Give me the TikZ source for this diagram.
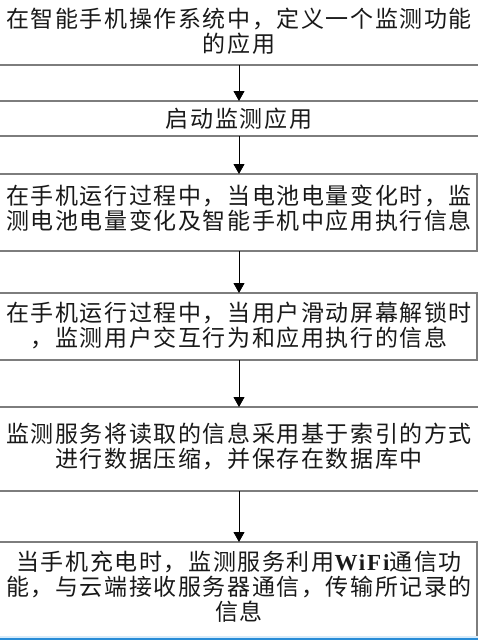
\documentclass[tikz,border=0pt]{standalone}
\usepackage{fontspec}
\setmainfont{Liberation Serif}
\newfontfamily\cjk[LetterSpace=7]{Noto Sans CJK SC}
\newfontfamily\lat[LetterSpace=8]{Liberation Serif}
\usetikzlibrary{arrows.meta}
\definecolor{boxgray}{RGB}{125,125,125}
\definecolor{selblue}{RGB}{40,140,215}
\definecolor{paleblue}{RGB}{215,235,250}
\begin{document}
\begin{tikzpicture}[x=1pt,y=-1pt,
  box/.style={draw=boxgray, line width=1.1pt, inner sep=0pt, outer sep=0pt, anchor=north west},
  txt/.style={font=\fontsize{23}{25}\selectfont\cjk, align=center, inner sep=0pt, text=black!90},
  arr/.style={-{Triangle[width=11pt,length=10pt]}, line width=0.8pt, draw=black}]
\useasboundingbox (0,0) rectangle (478,640);
\clip (0,0) rectangle (478,640);
\fill[white] (0,0) rectangle (478,640);
% boxes
\node[box, minimum width=487pt, minimum height=85pt] (b1) at (-5,-20) {};
\node[box, minimum width=487pt, minimum height=35pt] (b2) at (-5,101) {};
\node[box, minimum width=479pt, minimum height=77pt] (b3) at (-2,174) {};
\node[box, minimum width=479pt, minimum height=67pt] (b4) at (-2,293) {};
\node[box, minimum width=487pt, minimum height=84pt] (b5) at (-5,407) {};
\node[box, minimum width=479pt, minimum height=100pt] (b6) at (-2,542) {};
% texts
\node[txt] (t1) at (239,31) {在智能手机操作系统中，定义一个监测功能\\的应用};
\node[txt] (t2) at (239,119) {启动监测应用};
\node[txt] (t3) at (239,208) {在手机运行过程中，当电池电量变化时，监\\测电池电量变化及智能手机中应用执行信息};
\node[txt] (t4) at (239,325) {在手机运行过程中，当用户滑动屏幕解锁时\\，监测用户交互行为和应用执行的信息};
\node[txt] (t5) at (239,446) {监测服务将读取的信息采用基于索引的方式\\进行数据压缩，并保存在数据库中};
\node[txt] (t6) at (239,587) {当手机充电时，监测服务利用{\lat\bfseries WiFi}通信功\\能，与云端接收服务器通信，传输所记录的\\信息};
% arrows
\coordinate (ax) at (239,0);
\draw[arr] (b1.south -| ax) -- (b2.north -| ax);
\draw[arr] (b2.south -| ax) -- (b3.north -| ax);
\draw[arr] (b3.south -| ax) -- (b4.north -| ax);
\draw[arr] (b4.south -| ax) -- (b5.north -| ax);
\draw[arr] (b5.south -| ax) -- (b6.north -| ax);
% bottom selection band
\fill[paleblue] (0,635.5) rectangle (478,637.5);
\fill[selblue] (0,637.5) rectangle (478,640);
\end{tikzpicture}
\end{document}
